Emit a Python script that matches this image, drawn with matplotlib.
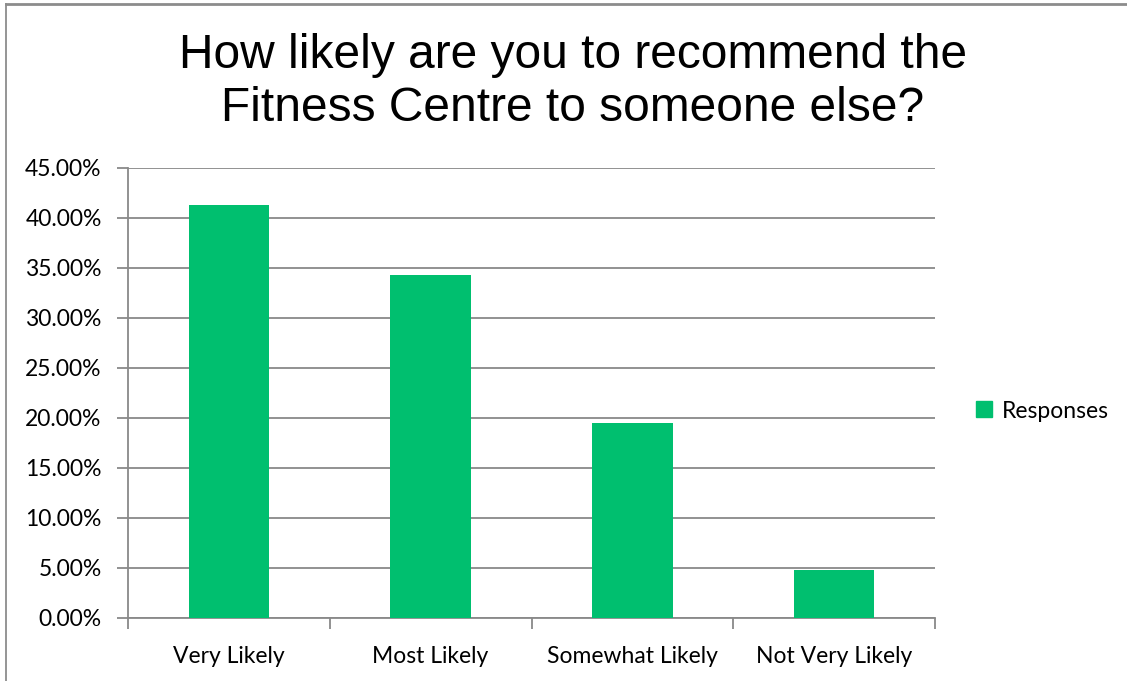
import matplotlib.pyplot as plt
from matplotlib.lines import Line2D
from matplotlib.ticker import FixedLocator, PercentFormatter
import numpy as np

# Survey results
categories = ["Very Likely", "Most Likely", "Somewhat Likely", "Not Very Likely"]
responses = [41.3, 34.3, 19.5, 4.8]   # percent of respondents

TITLE = "How likely are you to recommend the\nFitness Centre to someone else?"
BAR_COLOR = "#00BF6F"
GRID_COLOR = "#898989"
LABEL_FONT = "Lato"

fig = plt.figure(figsize=(11.27, 6.81), dpi=100)
ax = fig.add_axes([128 / 1127, 1 - 618 / 681, (935 - 128) / 1127, (618 - 168) / 681])

x = np.arange(len(categories))
ax.bar(x, responses, width=0.4, color=BAR_COLOR, zorder=3)

ax.set_xlim(-0.5, len(categories) - 0.5)
ax.set_ylim(0, 45)
ax.set_yticks(np.arange(0, 46, 5))
ax.yaxis.set_major_formatter(PercentFormatter(decimals=2))
ax.set_xticks(x)
ax.set_xticklabels(categories)
ax.xaxis.set_minor_locator(FixedLocator(np.arange(-0.5, len(categories), 1)))

ax.grid(axis="y", color=GRID_COLOR, linewidth=1.3, zorder=0)
for side in ("top", "right"):
    ax.spines[side].set_visible(False)
for side in ("left", "bottom"):
    ax.spines[side].set_color(GRID_COLOR)
    ax.spines[side].set_linewidth(1.3)

ax.tick_params(axis="y", length=8, width=1.3, color=GRID_COLOR, pad=11)
ax.tick_params(axis="x", which="major", length=0, pad=20)
ax.tick_params(axis="x", which="minor", length=8, width=1.3, color=GRID_COLOR)
for lbl in ax.get_xticklabels() + ax.get_yticklabels():
    lbl.set_fontfamily(LABEL_FONT)
    lbl.set_fontsize(16.5)
    lbl.set_color("black")

fig.text(573 / 1127, 1 - 82 / 681, TITLE, ha="center", va="center",
         fontsize=34.5, family="Liberation Sans", linespacing=1.22)

handle = Line2D([], [], marker="s", linestyle="none", markersize=12,
                color=BAR_COLOR)
fig.legend([handle], ["Responses"], loc="center left",
           bbox_to_anchor=(970 / 1127, 1 - 411 / 681), frameon=False,
           borderpad=0, borderaxespad=0, handlelength=1.2,
           handletextpad=0.2, prop={"family": LABEL_FONT, "size": 16.5})

# chart frame
fig.add_artist(Line2D([6 / 1127, 1], [1 - 4 / 681, 1 - 4 / 681],
                      transform=fig.transFigure, color="#8c8c8c", linewidth=2))
fig.add_artist(Line2D([6 / 1127, 6 / 1127], [0, 1 - 4 / 681],
                      transform=fig.transFigure, color="#8c8c8c", linewidth=1.3))

fig.savefig("out.png", dpi=100, facecolor="white")
